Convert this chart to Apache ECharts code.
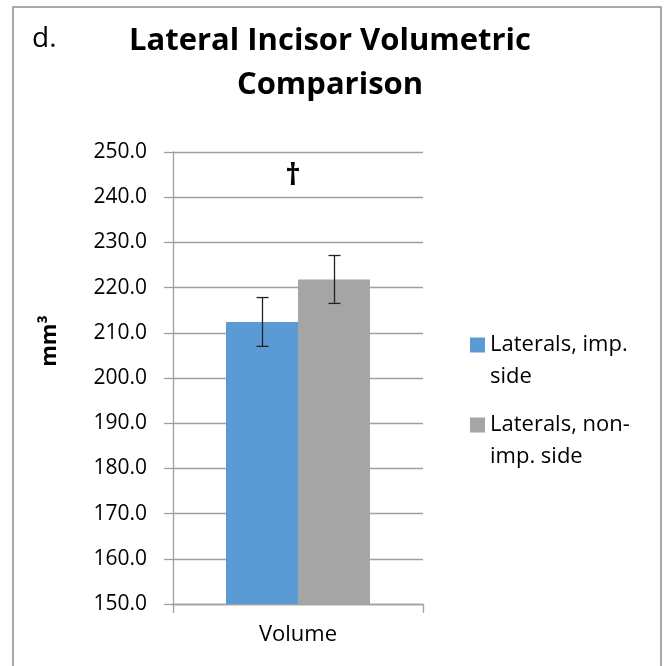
<!DOCTYPE html>
<html><head><meta charset="utf-8">
<script src="https://cdn.jsdelivr.net/npm/echarts@6/dist/echarts.min.js"></script>
<style>html,body{margin:0;padding:0;background:#fff}#c{width:668px;height:666px}</style>
</head><body><div id="c"></div>
<script>
const categories = ['Volume'];
const seriesNames = ['Laterals, imp. side', 'Laterals, non-imp. side'];
const legendLabels = ['Laterals, imp.\nside', 'Laterals, non-\nimp. side'];
const means = [212.4, 221.8];
const errors = [5.4, 5.3];
const colors = ['#5B9BD5', '#A5A5A5'];
const yTicks = [150, 250, 10];
const annotation = '†';

const FONT = '"Open Sans", "Noto Sans", sans-serif';
const BAR_W = 72;
const chart = echarts.init(document.getElementById('c'));

const barSeries = seriesNames.map((n, i) => ({
  name: n, type: 'bar', data: [means[i]], barWidth: BAR_W, barGap: '0%',
  itemStyle: { color: colors[i] }
}));
const errSeries = seriesNames.map((n, i) => ({
  type: 'custom', silent: true, z: 10,
  data: [[0, means[i] - errors[i], means[i] + errors[i]]],
  renderItem: function (params, api) {
    const lo = api.coord([api.value(0), api.value(1)]);
    const hi = api.coord([api.value(0), api.value(2)]);
    const x = Math.round(lo[0] + (i === 0 ? -BAR_W / 2 : BAR_W / 2)) + 0.5;
    const cap = 6;
    const st = { stroke: '#222', lineWidth: 1.3 };
    return { type: 'group', children: [
      { type: 'line', shape: { x1: x, y1: lo[1], x2: x, y2: hi[1] }, style: st },
      { type: 'line', shape: { x1: x - cap, y1: lo[1], x2: x + cap, y2: lo[1] }, style: st },
      { type: 'line', shape: { x1: x - cap, y1: hi[1], x2: x + cap, y2: hi[1] }, style: st }
    ]};
  }
}));

chart.setOption({
  animation: false,
  textStyle: { fontFamily: FONT },
  title: {
    text: 'Lateral Incisor Volumetric\nComparison', left: 325, textAlign: 'center', top: 14,
    textStyle: { fontSize: 31, fontWeight: 'bold', color: '#000', lineHeight: 44, fontFamily: FONT }
  },
  graphic: [
    { type: 'rect', shape: { x: 13, y: 7, width: 648, height: 700 }, style: { fill: 'none', stroke: '#8c8c8c', lineWidth: 1.5 }, z: -1 },
    { type: 'text', left: 32, top: 25, style: { text: 'd.', fontSize: 28, fill: '#000', fontFamily: FONT } },
    { type: 'text', x: 293, y: 176, style: { text: annotation, fontSize: 30, fontWeight: 'bold', fill: '#000', fontFamily: FONT, textAlign: 'center', textVerticalAlign: 'middle' } },
    { type: 'text', x: 61, y: 341, rotation: Math.PI / 2, style: { text: 'mm³', fontSize: 22, fontWeight: 'bold', fill: '#000', fontFamily: FONT, textAlign: 'center', textVerticalAlign: 'bottom' } }
  ],
  legend: {
    orient: 'vertical', left: 465, top: 324, itemWidth: 15, itemHeight: 47, itemGap: 16,
    icon: 'path://M0,0h15v15h-15z M0,47h0.01v0.01h-0.01z',
    formatter: name => legendLabels[seriesNames.indexOf(name)],
    textStyle: { fontSize: 22, lineHeight: 32, color: '#000', fontFamily: FONT },
    data: seriesNames
  },
  grid: { left: 173, right: 245, top: 152, bottom: 62 },
  xAxis: {
    type: 'category', data: categories,
    axisLine: { lineStyle: { color: '#a0a0a0', width: 1.3 } },
    axisTick: { show: true, length: 9, lineStyle: { color: '#a0a0a0', width: 1.3 } },
    axisLabel: { fontSize: 22, color: '#000', margin: 20, fontFamily: FONT }
  },
  yAxis: {
    type: 'value', min: yTicks[0], max: yTicks[1], interval: yTicks[2],
    axisLine: { show: true, lineStyle: { color: '#a0a0a0', width: 1.3 } },
    axisTick: { show: true, length: 9, lineStyle: { color: '#a0a0a0', width: 1.3 } },
    axisLabel: { fontSize: 21, color: '#000', margin: 26, formatter: v => v.toFixed(1), fontFamily: FONT },
    splitLine: { lineStyle: { color: '#a0a0a0', width: 1.3 } }
  },
  series: barSeries.concat(errSeries)
});
</script></body></html>
